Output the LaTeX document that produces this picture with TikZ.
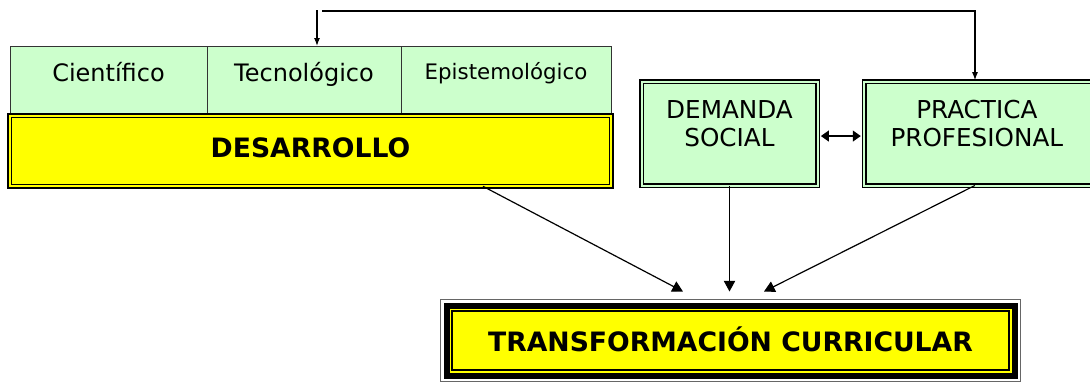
\documentclass[tikz,border=0pt]{standalone}
\usepackage{fontspec}
\setmainfont{DejaVu Sans}
\usepackage{xcolor}
\usetikzlibrary{arrows.meta}
\usetikzlibrary{calc}
\usetikzlibrary{positioning}
\definecolor{verde}{RGB}{204,255,204}
\definecolor{amarillo}{RGB}{255,255,0}

\begin{document}
\begin{tikzpicture}[x=0.75pt,y=-0.75pt,semithick]
		\tikzstyle{celda}=[draw=black!80, fill=verde, thin, outer sep=0pt, inner sep=0pt, minimum height=51.75pt]
		\tikzstyle{ctxt}=[anchor=base, inner sep=0pt, font=\fontsize{18}{21}\selectfont]
		\tikzstyle{btxt}=[anchor=base, inner sep=0pt, font=\fontsize{20}{24}\selectfont\bfseries]
		\tikzstyle{mtxt}=[align=center, inner sep=0pt, font=\fontsize{18.5}{21}\selectfont]
		\tikzstyle{caja}=[draw, line width=1.1pt, double=verde, double distance=1.5pt, fill=verde, outer sep=0pt, minimum height=78pt]
		\tikzstyle{flecha}=[line width=0.9pt, -{Triangle[length=8pt,width=8.5pt]}]
		\useasboundingbox[fill=white] (0,0) rectangle (1090,383);

			\node[celda, minimum width=147.75pt] (cien) at (108.5,80.5) {};
			\node[celda, minimum width=145.5pt]  (tec) [right=0pt of cien] {};
			\node[celda, minimum width=157.5pt]  (epi) [right=0pt of tec] {};
			\node[ctxt] (tcien) at ([yshift=-1.1pt]cien.center) {Científico};
			\node[ctxt] (ttec) at ([yshift=-1.1pt]tec.center) {Tecnológico};
			\node[ctxt, font=\fontsize{16}{19}\selectfont] (tepi) at ([yshift=1.1pt]epi.center) {Epistemológico};

			\node[draw, line width=1.2pt, double=amarillo, double distance=1.5pt, fill=amarillo, outer sep=0pt,
				minimum width=451pt, minimum height=53pt] (des) at (310.5,151) {};
			\node[btxt] (tdes) at ([yshift=-4.5pt]des.center) {DESARROLLO};

			\node[caja, minimum width=132pt] (dem) at (729.5,133.5) {};
			\node[caja, minimum width=172pt] (prac) [right=35pt of dem] {};
			\node[mtxt] (tdem) at ([yshift=7.5pt]dem.center) {DEMANDA\\SOCIAL};
			\node[mtxt] (tprac) at ([xshift=-1.5pt,yshift=7.5pt]prac.center) {PRACTICA\\PROFESIONAL};

			\node[draw=black!60, thin, fill=white, outer sep=0pt, minimum width=435pt, minimum height=61.5pt] (tra) at (730.5,340.5) {};
			\draw[line width=4.5pt, fill=amarillo] ($(tra.north west)+(6,6)$) rectangle ($(tra.south east)+(-6,-6)$);
			\draw[line width=1.1pt, fill=amarillo] ($(tra.north west)+(11.5,11.5)$) rectangle ($(tra.south east)+(-11.5,-11.5)$);
			\node[btxt] (ttra) at ([yshift=-8.6pt]tra.center) {TRANSFORMACIÓN CURRICULAR};

			\coordinate (t1) at (317,10);
			\coordinate (t2) at (322,11);
			\coordinate (t3) at (975,11);
			\draw[line width=0.9pt, -{Latex[length=6pt,width=4.5pt]}] (t1) -- (t1 |- tec.north);
			\draw[line width=0.9pt, -{Latex[length=6pt,width=4.5pt]}, shorten >=1pt] (t2) -- (t3) -- (t3 |- prac.north);
			\draw[line width=1.5pt, {Triangle[length=6pt,width=8pt]}-{Triangle[length=6pt,width=8pt]}, shorten <=2.5pt, shorten >=2.5pt]
				([yshift=-1.9pt]dem.east) -- ([yshift=-1.9pt]prac.west);

			\draw[flecha] ($(des.south)+(172.5,0)$) -- ($(tra.north)+(-47.5,-8)$);
			\draw[flecha] (dem.south) -- ($(tra.north)+(-1,-8)$);
			\draw[flecha] ($(prac.south)+(-4,0)$) -- ($(tra.north)+(33.5,-8)$);
\end{tikzpicture}
\end{document}
